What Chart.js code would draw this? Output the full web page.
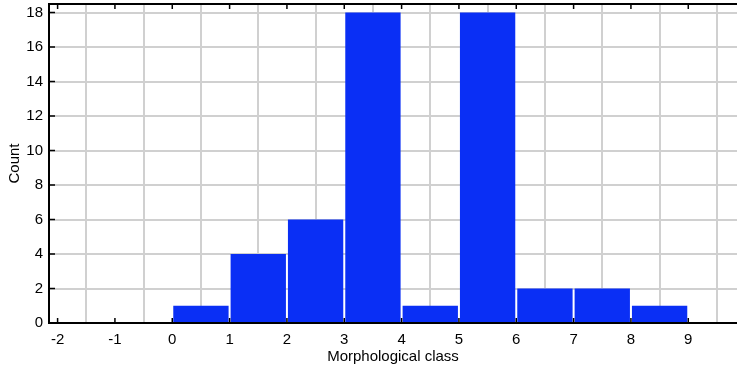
<!DOCTYPE html>
<html>
<head>
<meta charset="utf-8">
<script src="https://cdn.jsdelivr.net/npm/chart.js@4"></script>
<style>
  html, body { margin: 0; padding: 0; background: #fff; overflow: hidden; }
  #wrap { width: 737px; height: 366px; position: relative; }
</style>
</head>
<body>
<div id="wrap"><canvas id="chart"></canvas></div>
<script>
// histogram bins (left edge) and counts
const binStarts = [0, 1, 2, 3, 4, 5, 6, 7, 8];
const counts = [1, 4, 6, 18, 1, 18, 2, 2, 1];
const xTickValues = [-2, -1, 0, 1, 2, 3, 4, 5, 6, 7, 8, 9];
const yTickValues = [0, 2, 4, 6, 8, 10, 12, 14, 16, 18];

const barColor = '#0a2ff5';
const gridColor = '#d0d0d0';
const fontFamily = '"Liberation Sans", Arial, Helvetica, sans-serif';
const fontSize = 15;

// draws the top frame line and the inward tick marks
const inwardTicks = {
    id: 'inwardTicks',
    afterDatasetsDraw(chart) {
        const { ctx, chartArea: a, scales: { x, y } } = chart;
        ctx.save();
        ctx.strokeStyle = '#000';
        ctx.lineWidth = 2;
        ctx.beginPath();
        ctx.moveTo(a.left - 1, a.top);
        ctx.lineTo(a.right, a.top);
        ctx.stroke();

        ctx.lineWidth = 1.5;
        ctx.beginPath();
        x.ticks.forEach(t => {
            const px = x.getPixelForValue(t.value);
            ctx.moveTo(px, a.bottom);
            ctx.lineTo(px, a.bottom - 5);
            ctx.moveTo(px, a.top);
            ctx.lineTo(px, a.top + 5);
        });
        y.ticks.forEach(t => {
            const py = y.getPixelForValue(t.value);
            ctx.moveTo(a.left, py);
            ctx.lineTo(a.left + 6, py);
        });
        ctx.stroke();
        ctx.restore();
    }
};

const ctx = document.getElementById('chart').getContext('2d');
new Chart(ctx, {
    type: 'bar',
    data: {
        datasets: [{
            label: 'Count',
            data: binStarts.map((s, i) => ({ x: s + 0.5, y: counts[i] })),
            backgroundColor: barColor,
            borderWidth: 0,
            barPercentage: 0.965,
            categoryPercentage: 1
        }]
    },
    options: {
        responsive: true,
        maintainAspectRatio: false,
        animation: false,
        layout: { padding: { top: 4, right: 0, left: 0, bottom: 0 } },
        plugins: { legend: { display: false }, tooltip: { enabled: false } },
        scales: {
            x: {
                type: 'linear',
                min: -2.15,
                max: 9.85,
                offset: false,
                afterBuildTicks: scale => { scale.ticks = xTickValues.map(v => ({ value: v })); },
                afterFit: scale => {
                    scale.height = 43;
                    scale.paddingLeft = 0;
                    scale.paddingRight = 0;
                },
                grid: { color: gridColor, lineWidth: 2, drawTicks: false },
                border: { display: true, color: '#000', width: 2 },
                ticks: {
                    padding: 8,
                    color: '#000',
                    maxRotation: 0,
                    font: { family: fontFamily, size: fontSize },
                    callback: v => String(v)
                },
                title: {
                    display: true,
                    text: 'Morphological class',
                    color: '#000',
                    font: { family: fontFamily, size: fontSize },
                    padding: { top: 3, bottom: 0 }
                }
            },
            y: {
                min: 0,
                max: 18.5,
                afterBuildTicks: scale => { scale.ticks = yTickValues.map(v => ({ value: v })); },
                afterFit: scale => {
                    scale.width = 49;
                    scale.paddingTop = 0;
                    scale.paddingBottom = 0;
                },
                grid: { color: gridColor, lineWidth: 2, drawTicks: false },
                border: { display: true, color: '#000', width: 2 },
                ticks: {
                    padding: 6,
                    color: '#000',
                    font: { family: fontFamily, size: fontSize }
                },
                title: {
                    display: true,
                    text: 'Count',
                    color: '#000',
                    font: { family: fontFamily, size: fontSize },
                    padding: { top: 6, bottom: 0 }
                }
            }
        }
    },
    plugins: [inwardTicks]
});
</script>
</body>
</html>
